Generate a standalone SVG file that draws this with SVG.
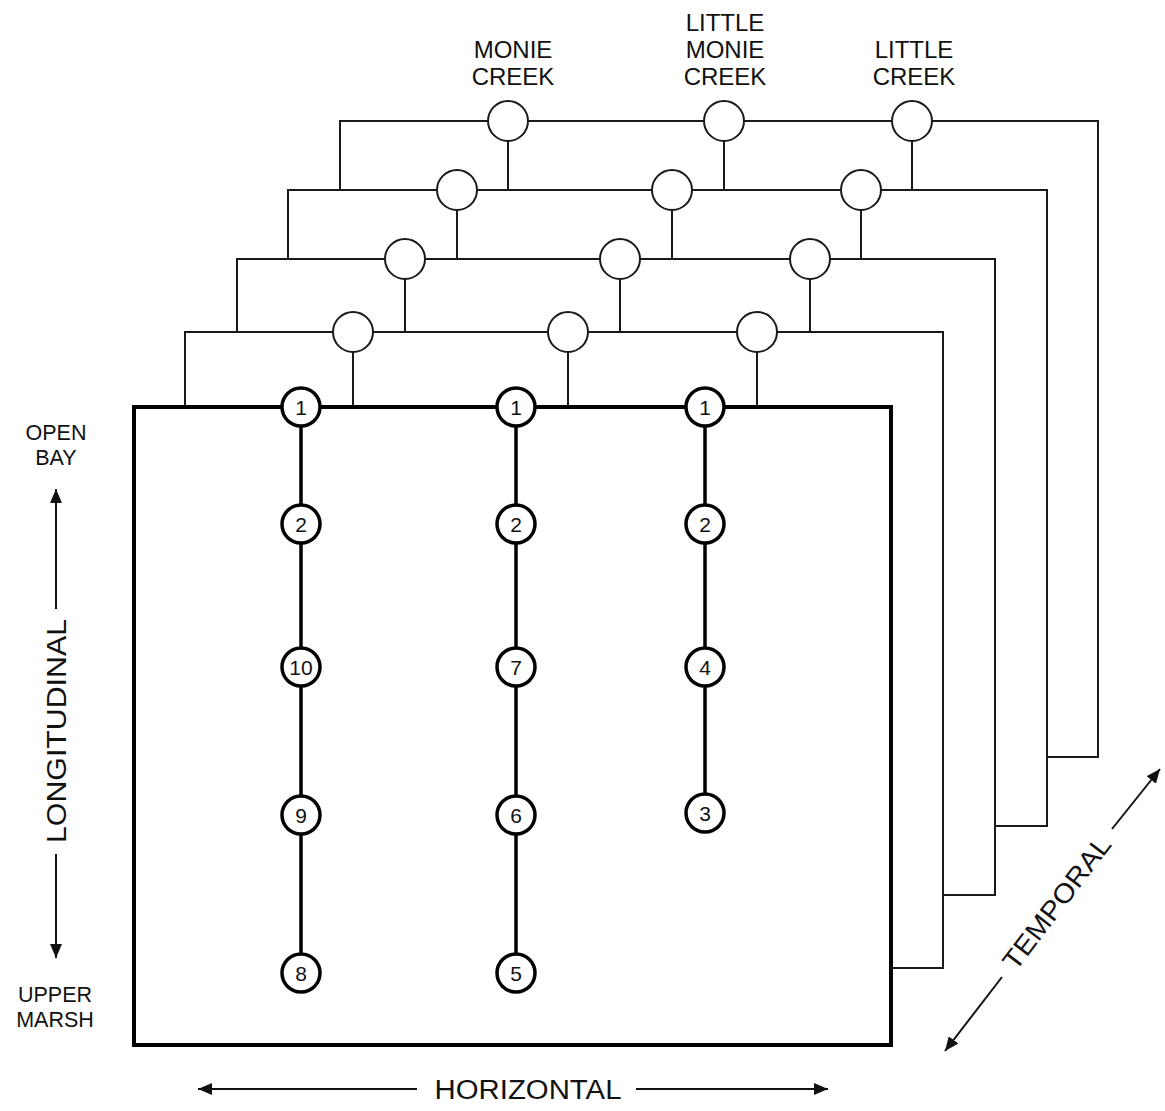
<svg xmlns="http://www.w3.org/2000/svg" width="1165" height="1111" viewBox="0 0 1165 1111">
<style>
.bg{fill:#fff}
.frame{fill:none;stroke:#1a1a1a;stroke-width:2}
.front{fill:none;stroke:#000;stroke-width:4}
.stem{stroke:#1a1a1a;stroke-width:2;fill:none}
.chain{stroke:#000;stroke-width:3.5;fill:none}
.bc{fill:#fff;stroke:#1a1a1a;stroke-width:2}
.fc{fill:#fff;stroke:#000;stroke-width:3.5}
.num{font-family:"Liberation Sans",Arial,sans-serif;font-size:21px;fill:#111;text-anchor:middle}
.lbl{font-family:"Liberation Sans",Arial,sans-serif;font-size:24px;fill:#111;text-anchor:middle}
.side{font-family:"Liberation Sans",Arial,sans-serif;font-size:21.5px;fill:#111;text-anchor:middle}
.axis{font-family:"Liberation Sans",Arial,sans-serif;font-size:27px;fill:#111;text-anchor:middle}
.arr{stroke:#111;stroke-width:2;fill:none;marker-end:url(#ah)}
</style>
<defs>
<marker id="ah" viewBox="0 0 14 12" refX="14" refY="6" markerWidth="14" markerHeight="12" markerUnits="userSpaceOnUse" orient="auto">
<path d="M0,0 L14,6 L0,12 z" fill="#111"/>
</marker>
</defs>
<rect class="bg" x="0" y="0" width="1165" height="1111"/>

<g id="connectors">
<path class="frame" d="M340,190 V121 H1098 V757 H1047"/>
<path class="frame" d="M288,259 V190 H1047 V826 H995"/>
<path class="frame" d="M237,332 V259 H995 V895 H943"/>
<path class="frame" d="M185,407 V332 H943 V968 H891"/>
<path class="stem" d="M508,141 V190 M724,141 V190 M912,141 V190"/>
<path class="stem" d="M457,210 V259 M672,210 V259 M861,210 V259"/>
<path class="stem" d="M405,279 V332 M620,279 V332 M810,279 V332"/>
<path class="stem" d="M353,352 V407 M568,352 V407 M757,352 V407"/>
<rect class="front" x="134" y="407" width="757" height="638"/>
<path class="chain" d="M301,407 V973 M516,407 V973 M705,407 V813"/>
</g>

<g id="layer4-nodes">
<circle id="n4a" class="bc" cx="508" cy="121" r="20"/>
<circle id="n4b" class="bc" cx="724" cy="121" r="20"/>
<circle id="n4c" class="bc" cx="912" cy="121" r="20"/>
</g>
<g id="layer3-nodes">
<circle id="n3a" class="bc" cx="457" cy="190" r="20"/>
<circle id="n3b" class="bc" cx="672" cy="190" r="20"/>
<circle id="n3c" class="bc" cx="861" cy="190" r="20"/>
</g>
<g id="layer2-nodes">
<circle id="n2a" class="bc" cx="405" cy="259" r="20"/>
<circle id="n2b" class="bc" cx="620" cy="259" r="20"/>
<circle id="n2c" class="bc" cx="810" cy="259" r="20"/>
</g>
<g id="layer1-nodes">
<circle id="n1a" class="bc" cx="353" cy="332" r="20"/>
<circle id="n1b" class="bc" cx="568" cy="332" r="20"/>
<circle id="n1c" class="bc" cx="757" cy="332" r="20"/>
</g>

<g id="col-monie">
<g id="m1"><circle class="fc" cx="301" cy="407" r="19"/><text class="num" x="301" y="415">1</text></g>
<g id="m2"><circle class="fc" cx="301" cy="524" r="19"/><text class="num" x="301" y="532">2</text></g>
<g id="m10"><circle class="fc" cx="301" cy="667" r="19"/><text class="num" x="301" y="675">10</text></g>
<g id="m9"><circle class="fc" cx="301" cy="815" r="19"/><text class="num" x="301" y="823">9</text></g>
<g id="m8"><circle class="fc" cx="301" cy="973" r="19"/><text class="num" x="301" y="981">8</text></g>
</g>
<g id="col-littlemonie">
<g id="lm1"><circle class="fc" cx="516" cy="407" r="19"/><text class="num" x="516" y="415">1</text></g>
<g id="lm2"><circle class="fc" cx="516" cy="524" r="19"/><text class="num" x="516" y="532">2</text></g>
<g id="lm7"><circle class="fc" cx="516" cy="667" r="19"/><text class="num" x="516" y="675">7</text></g>
<g id="lm6"><circle class="fc" cx="516" cy="815" r="19"/><text class="num" x="516" y="823">6</text></g>
<g id="lm5"><circle class="fc" cx="516" cy="973" r="19"/><text class="num" x="516" y="981">5</text></g>
</g>
<g id="col-little">
<g id="l1"><circle class="fc" cx="705" cy="407" r="19"/><text class="num" x="705" y="415">1</text></g>
<g id="l2"><circle class="fc" cx="705" cy="524" r="19"/><text class="num" x="705" y="532">2</text></g>
<g id="l4"><circle class="fc" cx="705" cy="667" r="19"/><text class="num" x="705" y="675">4</text></g>
<g id="l3"><circle class="fc" cx="705" cy="813" r="19"/><text class="num" x="705" y="821">3</text></g>
</g>

<g id="labels">
<text class="lbl"><tspan x="513" y="58">MONIE</tspan><tspan x="513" y="85">CREEK</tspan></text>
<text class="lbl"><tspan x="725" y="31">LITTLE</tspan><tspan x="725" y="58">MONIE</tspan><tspan x="725" y="85">CREEK</tspan></text>
<text class="lbl"><tspan x="914" y="58">LITTLE</tspan><tspan x="914" y="85">CREEK</tspan></text>
<text class="side"><tspan x="56" y="440">OPEN</tspan><tspan x="56" y="465">BAY</tspan></text>
<text class="side"><tspan x="55" y="1002">UPPER</tspan><tspan x="55" y="1027">MARSH</tspan></text>
</g>

<g id="axes">
<line class="arr" x1="56" y1="609" x2="56" y2="489"/>
<line class="arr" x1="56" y1="854" x2="56" y2="958"/>
<text class="axis" transform="translate(66,731) rotate(-90)" x="0" y="0" textLength="224" lengthAdjust="spacingAndGlyphs">LONGITUDINAL</text>
<line class="arr" x1="417" y1="1089" x2="198" y2="1089"/>
<line class="arr" x1="636" y1="1089" x2="828" y2="1089"/>
<text class="axis" x="528" y="1099" textLength="187" lengthAdjust="spacingAndGlyphs">HORIZONTAL</text>
<line class="arr" x1="1002" y1="977" x2="945" y2="1051"/>
<line class="arr" x1="1112" y1="829" x2="1160" y2="769"/>
<text class="axis" transform="translate(1057,903) rotate(-52.7)" x="0" y="9" textLength="160" lengthAdjust="spacingAndGlyphs">TEMPORAL</text>
</g>
</svg>
